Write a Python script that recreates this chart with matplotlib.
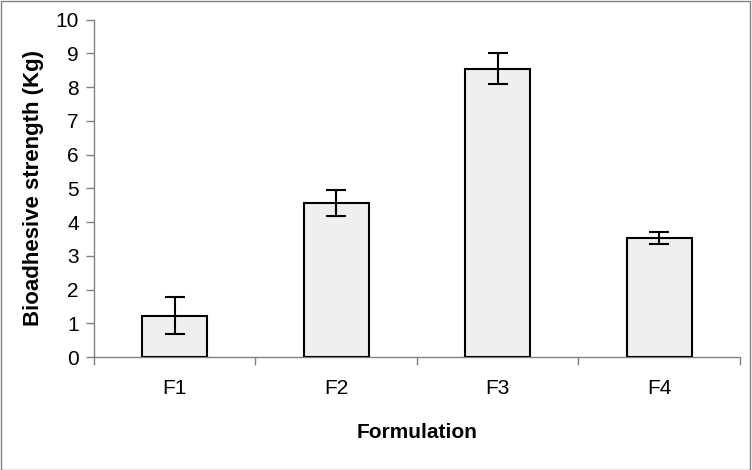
import matplotlib.pyplot as plt
import numpy as np
from matplotlib.patches import Rectangle

plt.rcParams['font.family'] = ['Liberation Sans', 'DejaVu Sans']

formulations = ['F1', 'F2', 'F3', 'F4']
strength = [1.23, 4.56, 8.54, 3.52]
sd = [0.54, 0.38, 0.46, 0.17]

fig = plt.figure(figsize=(7.52, 4.70), dpi=100)
ax = fig.add_axes([0.125, 0.2404, 0.859, 0.718])

x = np.arange(len(formulations))
ax.bar(x, strength, width=0.4, color='#efefef', edgecolor='black', linewidth=1.5,
       yerr=sd, capsize=7, error_kw={'elinewidth': 1.5, 'capthick': 1.5, 'ecolor': 'black'},
       zorder=3)

ax.set_xlim(-0.5, len(formulations) - 0.5)
ax.set_ylim(0, 10)
ax.set_yticks(np.arange(0, 11, 1))
ax.set_xticks(x)
ax.set_xticklabels(formulations)
ax.set_xticks(np.arange(-0.5, len(formulations), 1), minor=True)
ax.tick_params(axis='x', which='major', length=0, pad=16, labelsize=15)
ax.tick_params(axis='x', which='minor', length=6, color='#808080', width=1)
ax.tick_params(axis='y', length=6, color='#808080', width=1, labelsize=15, pad=5)

for side in ['top', 'right']:
    ax.spines[side].set_visible(False)
for side in ['left', 'bottom']:
    ax.spines[side].set_color('#808080')
    ax.spines[side].set_linewidth(1)

ax.set_xlabel('Formulation', fontsize=15, fontweight='bold', labelpad=18)
ax.set_ylabel('Bioadhesive strength (Kg)', fontsize=16, fontweight='bold', labelpad=8)

fig.patches.append(Rectangle((0.001, 0.001), 0.997, 0.997, transform=fig.transFigure,
                             fill=False, edgecolor='#808080', linewidth=1))

fig.savefig('out.png', dpi=100)
